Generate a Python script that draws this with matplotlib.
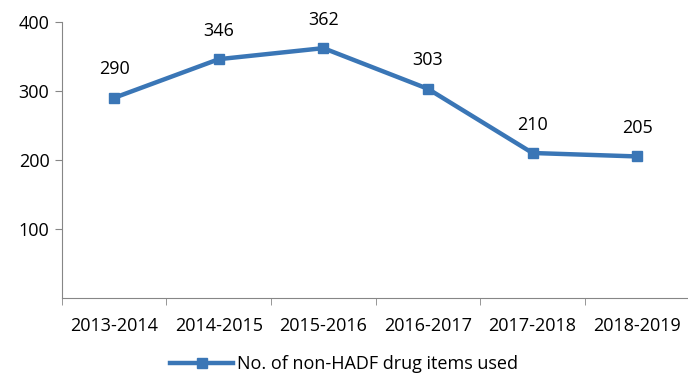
import matplotlib.pyplot as plt

plt.rcParams['font.family'] = ['Open Sans', 'DejaVu Sans']

years = ['2013-2014', '2014-2015', '2015-2016', '2016-2017', '2017-2018', '2018-2019']
items = [290, 346, 362, 303, 210, 205]
yticks = [100, 200, 300, 400]
color = '#3A76B6'

fig = plt.figure(figsize=(6.88, 3.78), dpi=100)
ax = fig.add_axes([0.090, 0.212, 0.912, 0.730])

x = list(range(len(years)))
ax.plot(x, items, color=color, lw=3.2, marker='s', ms=7,
        label='No. of non-HADF drug items used')
for xi, v in zip(x, items):
    ax.annotate(str(v), (xi, v), xytext=(0, 14), textcoords='offset points',
                ha='center', va='bottom', fontsize=13)

ax.set_xlim(-0.5, len(years) - 0.5)
ax.set_ylim(0, 400)
ax.set_yticks(yticks)
ax.tick_params(axis='y', labelsize=13, length=5, color='#868686', pad=4)
ax.set_xticks(x)
ax.set_xticklabels(years, fontsize=13)
ax.tick_params(axis='x', length=0, pad=14)
ax.set_xticks([i + 0.5 for i in range(-1, len(years))], minor=True)
ax.tick_params(axis='x', which='minor', length=5, color='#868686')
for s in ['top', 'right']:
    ax.spines[s].set_visible(False)
for s in ['left', 'bottom']:
    ax.spines[s].set_color('#868686')

fig.legend(loc='center', bbox_to_anchor=(0.5, 0.036), frameon=False,
           fontsize=13, handlelength=3.5, handletextpad=0.2,
           borderpad=0, borderaxespad=0)

plt.savefig('out.png', dpi=100)
